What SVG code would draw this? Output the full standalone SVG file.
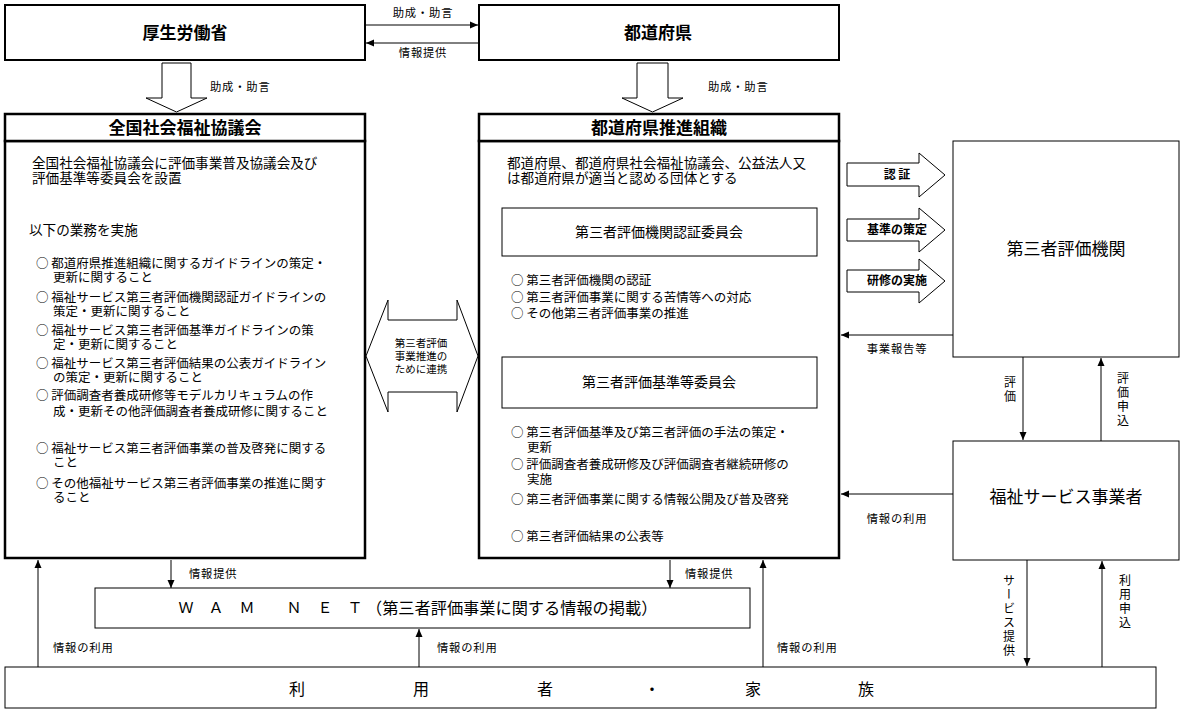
<svg xmlns="http://www.w3.org/2000/svg" width="1185" height="713" viewBox="0 0 1185 713">
<style>
text{font-family:"Noto Sans CJK JP","Noto Sans",sans-serif;fill:#000}
.b{font-size:12.5px}
.i{font-size:13.6px}
.s{font-size:11.3px;letter-spacing:0.8px}
.ttl{font-size:17px;font-weight:bold;text-anchor:middle}
.big{font-size:17px;text-anchor:middle}
.sub{font-size:14px;text-anchor:middle}
.lbl{font-size:12px;font-weight:bold;text-anchor:middle}
.v{font-size:12px;writing-mode:vertical-rl;letter-spacing:2px}
.box{fill:#fff;stroke:#000;stroke-width:1}
.box2{fill:#fff;stroke:#000;stroke-width:2}
.thick{fill:#fff;stroke:#000;stroke-width:2.5}
.ln{fill:none;stroke:#000;stroke-width:1}
.hol{fill:#fff;stroke:#000;stroke-width:1}
</style>
<defs>
<marker id="ah" markerUnits="userSpaceOnUse" markerWidth="8" markerHeight="8" refX="8" refY="4" orient="auto"><path d="M0,0.5 L8,4 L0,7.5 z" fill="#000"/></marker>
</defs>

<g id="kosei">
<rect class="box2" x="5" y="5" width="360" height="55"/>
<text class="ttl" x="185" y="39">厚生労働省</text>
</g>

<g id="todofuken">
<rect class="box2" x="479" y="5" width="360" height="55"/>
<text class="ttl" x="658" y="39">都道府県</text>
</g>

<g id="zenshakyo">
<rect class="thick" x="5" y="141" width="360" height="417"/>
<rect class="thick" x="5" y="114" width="360" height="27"/>
<text class="ttl" x="185" y="134">全国社会福祉協議会</text>
<text class="i" x="32" y="168">全国社会福祉協議会に評価事業普及協議会及び</text>
<text class="i" x="32" y="183">評価基準等委員会を設置</text>
<text class="i" x="29" y="235">以下の業務を実施</text>
<text class="b" x="36" y="268">○ 都道府県推進組織に関するガイドラインの策定・</text>
<text class="b" x="53" y="282">更新に関すること</text>
<text class="b" x="36" y="302">○ 福祉サービス第三者評価機関認証ガイドラインの</text>
<text class="b" x="53" y="316">策定・更新に関すること</text>
<text class="b" x="36" y="335">○ 福祉サービス第三者評価基準ガイドラインの策</text>
<text class="b" x="53" y="349">定・更新に関すること</text>
<text class="b" x="36" y="368">○ 福祉サービス第三者評価結果の公表ガイドライン</text>
<text class="b" x="53" y="382">の策定・更新に関すること</text>
<text class="b" x="36" y="400">○ 評価調査者養成研修等モデルカリキュラムの作</text>
<text class="b" x="53" y="416">成・更新その他評価調査者養成研修に関すること</text>
<text class="b" x="36" y="453">○ 福祉サービス第三者評価事業の普及啓発に関する</text>
<text class="b" x="53" y="467">こと</text>
<text class="b" x="36" y="488">○ その他福祉サービス第三者評価事業の推進に関す</text>
<text class="b" x="53" y="502">ること</text>
</g>

<g id="suishin">
<rect class="thick" x="479" y="141" width="360" height="417"/>
<rect class="thick" x="479" y="114" width="360" height="27"/>
<text class="ttl" x="659" y="134">都道府県推進組織</text>
<text class="i" x="507" y="168">都道府県、都道府県社会福祉協議会、公益法人又</text>
<text class="i" x="507" y="183">は都道府県が適当と認める団体とする</text>
<g id="ninsho-iinkai">
<rect class="box" x="502" y="208" width="315" height="48"/>
<text class="sub" x="659" y="237">第三者評価機関認証委員会</text>
</g>
<text class="b" x="511" y="285">○ 第三者評価機関の認証</text>
<text class="b" x="511" y="302">○ 第三者評価事業に関する苦情等への対応</text>
<text class="b" x="511" y="318">○ その他第三者評価事業の推進</text>
<g id="kijun-iinkai">
<rect class="box" x="502" y="357" width="315" height="51"/>
<text class="sub" x="659" y="387">第三者評価基準等委員会</text>
</g>
<text class="b" x="511" y="437">○ 第三者評価基準及び第三者評価の手法の策定・</text>
<text class="b" x="527" y="452">更新</text>
<text class="b" x="511" y="469">○ 評価調査者養成研修及び評価調査者継続研修の</text>
<text class="b" x="527" y="484">実施</text>
<text class="b" x="511" y="504">○ 第三者評価事業に関する情報公開及び普及啓発</text>
<text class="b" x="511" y="541">○ 第三者評価結果の公表等</text>
</g>

<g id="hyoka-kikan">
<rect class="box" x="953" y="141" width="226" height="216"/>
<text class="big" x="1066" y="255">第三者評価機関</text>
</g>

<g id="jigyosha">
<rect class="box" x="953" y="441" width="226" height="119"/>
<text class="big" x="1066" y="503">福祉サービス事業者</text>
</g>

<g id="wamnet">
<rect class="box" x="95" y="588" width="655" height="40"/>
<text style="font-size:15px" y="613" text-anchor="middle"><tspan x="186">Ｗ</tspan><tspan x="216">Ａ</tspan><tspan x="247">Ｍ</tspan><tspan x="294">Ｎ</tspan><tspan x="325">Ｅ</tspan><tspan x="355">Ｔ</tspan></text>
<text style="font-size:16.2px" x="366" y="614">（第三者評価事業に関する情報の掲載）</text>
</g>

<g id="riyosha">
<rect class="box" x="5" y="667" width="1151" height="41"/>
<text class="big" y="695" style="font-size:16px"><tspan x="297">利</tspan><tspan x="421">用</tspan><tspan x="545">者</tspan><tspan x="652">・</tspan><tspan x="753">家</tspan><tspan x="866">族</tspan></text>
</g>

<g id="connectors">
<path class="ln" d="M365,25 H478" marker-end="url(#ah)"/>
<text class="s" x="423" y="17" text-anchor="middle">助成・助言</text>
<path class="ln" d="M479,43 H366" marker-end="url(#ah)"/>
<text class="s" x="423" y="57" text-anchor="middle">情報提供</text>

<polygon class="hol" points="162,63 191,63 191,98 207,98 176.5,112 146,98 162,98"/>
<text class="s" x="210" y="91">助成・助言</text>
<polygon class="hol" points="637,63 668,63 668,98 683,98 652.5,112 622,98 637,98"/>
<text class="s" x="708" y="91">助成・助言</text>

<polygon class="hol" points="366,356 388,300 388,320 457,320 457,300 478,356 457,412 457,392 388,392 388,412"/>
<text style="font-size:10.5px" text-anchor="middle"><tspan x="421" y="347">第三者評価</tspan><tspan x="421" y="360">事業推進の</tspan><tspan x="421" y="373">ために連携</tspan></text>

<polygon class="hol" points="847,163 919,163 919,153 945,175 919,197 919,186 847,186"/>
<text class="lbl" x="897" y="179">認 証</text>
<polygon class="hol" points="847,219 919,219 919,208 945,230 919,252 919,241 847,241"/>
<text class="lbl" x="897" y="234">基準の策定</text>
<polygon class="hol" points="847,270 919,270 919,259 945,281 919,303 919,292 847,292"/>
<text class="lbl" x="897" y="285">研修の実施</text>

<path class="ln" d="M953,335 H841" marker-end="url(#ah)"/>
<text class="s" x="897" y="353" text-anchor="middle">事業報告等</text>
<path class="ln" d="M953,494 H841" marker-end="url(#ah)"/>
<text class="s" x="897" y="523" text-anchor="middle">情報の利用</text>

<path class="ln" d="M1023,357 V440" marker-end="url(#ah)"/>
<text class="v" x="1010" y="376">評価</text>
<path class="ln" d="M1101,441 V358" marker-end="url(#ah)"/>
<text class="v" x="1123" y="372">評価申込</text>

<path class="ln" d="M1027,560 V666" marker-end="url(#ah)"/>
<text class="v" x="1009" y="574">サービス提供</text>
<path class="ln" d="M1102,667 V561" marker-end="url(#ah)"/>
<text class="v" x="1125" y="574">利用申込</text>

<path class="ln" d="M38,667 V560" marker-end="url(#ah)"/>
<text class="s" x="53" y="652">情報の利用</text>
<path class="ln" d="M171,560 V588" marker-end="url(#ah)"/>
<text class="s" x="189" y="578">情報提供</text>
<path class="ln" d="M419,667 V629" marker-end="url(#ah)"/>
<text class="s" x="437" y="652">情報の利用</text>
<path class="ln" d="M670,560 V588" marker-end="url(#ah)"/>
<text class="s" x="685" y="578">情報提供</text>
<path class="ln" d="M763,667 V560" marker-end="url(#ah)"/>
<text class="s" x="777" y="652">情報の利用</text>
</g>
</svg>
